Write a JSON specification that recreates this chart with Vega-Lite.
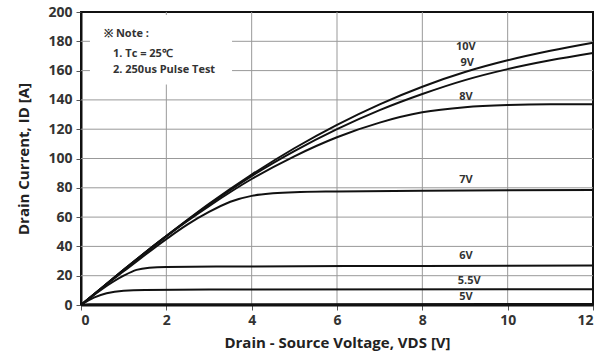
{
  "$schema": "https://vega.github.io/schema/vega-lite/v6.json",
  "autosize": {"type": "none"},
  "width": 512,
  "height": 293,
  "padding": {"left": 81, "top": 12, "right": 10, "bottom": 54},
  "config": {
    "view": {"stroke": "#111", "strokeWidth": 2},
    "font": "Open Sans"
  },
  "datasets": {
    "curves": [
      {"vgs": "10V", "v": 0, "i": 0}, {"vgs": "10V", "v": 0.5, "i": 12}, {"vgs": "10V", "v": 1, "i": 24}, {"vgs": "10V", "v": 2, "i": 47}, {"vgs": "10V", "v": 3, "i": 69}, {"vgs": "10V", "v": 4, "i": 89}, {"vgs": "10V", "v": 5, "i": 107}, {"vgs": "10V", "v": 6, "i": 123}, {"vgs": "10V", "v": 7, "i": 137}, {"vgs": "10V", "v": 8, "i": 149}, {"vgs": "10V", "v": 9, "i": 159}, {"vgs": "10V", "v": 10, "i": 167}, {"vgs": "10V", "v": 11, "i": 173.5}, {"vgs": "10V", "v": 12, "i": 179},
      {"vgs": "9V", "v": 0, "i": 0}, {"vgs": "9V", "v": 0.5, "i": 12}, {"vgs": "9V", "v": 1, "i": 24}, {"vgs": "9V", "v": 2, "i": 47}, {"vgs": "9V", "v": 3, "i": 68.5}, {"vgs": "9V", "v": 4, "i": 88}, {"vgs": "9V", "v": 5, "i": 105}, {"vgs": "9V", "v": 6, "i": 120}, {"vgs": "9V", "v": 7, "i": 133}, {"vgs": "9V", "v": 8, "i": 144}, {"vgs": "9V", "v": 9, "i": 153.5}, {"vgs": "9V", "v": 10, "i": 161}, {"vgs": "9V", "v": 11, "i": 167}, {"vgs": "9V", "v": 12, "i": 172},
      {"vgs": "8V", "v": 0, "i": 0}, {"vgs": "8V", "v": 0.5, "i": 12}, {"vgs": "8V", "v": 1, "i": 24}, {"vgs": "8V", "v": 2, "i": 47}, {"vgs": "8V", "v": 3, "i": 67.5}, {"vgs": "8V", "v": 4, "i": 86}, {"vgs": "8V", "v": 5, "i": 101.5}, {"vgs": "8V", "v": 6, "i": 114.5}, {"vgs": "8V", "v": 7, "i": 124.5}, {"vgs": "8V", "v": 8, "i": 131.5}, {"vgs": "8V", "v": 9, "i": 135}, {"vgs": "8V", "v": 10, "i": 136.5}, {"vgs": "8V", "v": 11, "i": 137}, {"vgs": "8V", "v": 12, "i": 137},
      {"vgs": "7V", "v": 0, "i": 0}, {"vgs": "7V", "v": 0.5, "i": 12}, {"vgs": "7V", "v": 1, "i": 23}, {"vgs": "7V", "v": 2, "i": 45}, {"vgs": "7V", "v": 2.5, "i": 55}, {"vgs": "7V", "v": 3, "i": 63.5}, {"vgs": "7V", "v": 3.5, "i": 70.5}, {"vgs": "7V", "v": 4, "i": 74.5}, {"vgs": "7V", "v": 4.5, "i": 76.2}, {"vgs": "7V", "v": 5, "i": 77}, {"vgs": "7V", "v": 6, "i": 77.5}, {"vgs": "7V", "v": 8, "i": 78}, {"vgs": "7V", "v": 12, "i": 78.5},
      {"vgs": "6V", "v": 0, "i": 0}, {"vgs": "6V", "v": 0.5, "i": 11}, {"vgs": "6V", "v": 1, "i": 20}, {"vgs": "6V", "v": 1.3, "i": 24}, {"vgs": "6V", "v": 1.6, "i": 25.5}, {"vgs": "6V", "v": 2, "i": 26}, {"vgs": "6V", "v": 4, "i": 26.3}, {"vgs": "6V", "v": 8, "i": 26.7}, {"vgs": "6V", "v": 12, "i": 27},
      {"vgs": "5.5V", "v": 0, "i": 0}, {"vgs": "5.5V", "v": 0.3, "i": 5}, {"vgs": "5.5V", "v": 0.6, "i": 8}, {"vgs": "5.5V", "v": 1, "i": 9.8}, {"vgs": "5.5V", "v": 1.5, "i": 10.3}, {"vgs": "5.5V", "v": 3, "i": 10.5}, {"vgs": "5.5V", "v": 12, "i": 10.8},
      {"vgs": "5V", "v": 0, "i": 0}, {"vgs": "5V", "v": 0.2, "i": 0.5}, {"vgs": "5V", "v": 12, "i": 0.7}
    ],
    "labels": [
      {"text": "10V", "v": 9.02, "i": 176},
      {"text": "9V", "v": 9.05, "i": 165},
      {"text": "8V", "v": 9.02, "i": 142},
      {"text": "7V", "v": 9.02, "i": 85.3},
      {"text": "6V", "v": 9.02, "i": 33.4},
      {"text": "5.5V", "v": 9.1, "i": 16.4},
      {"text": "5V", "v": 9.02, "i": 5.5}
    ],
    "grid": [
      {"g": "v2a", "v": 2, "i": 0}, {"g": "v2a", "v": 2, "i": 150.5},
      {"g": "v2b", "v": 2, "i": 198}, {"g": "v2b", "v": 2, "i": 200},
      {"g": "v4", "v": 4, "i": 0}, {"g": "v4", "v": 4, "i": 200},
      {"g": "v6", "v": 6, "i": 0}, {"g": "v6", "v": 6, "i": 200},
      {"g": "v8", "v": 8, "i": 0}, {"g": "v8", "v": 8, "i": 200},
      {"g": "v10", "v": 10, "i": 0}, {"g": "v10", "v": 10, "i": 200},
      {"g": "h20", "v": 0, "i": 20}, {"g": "h20", "v": 12, "i": 20},
      {"g": "h40", "v": 0, "i": 40}, {"g": "h40", "v": 12, "i": 40},
      {"g": "h60", "v": 0, "i": 60}, {"g": "h60", "v": 12, "i": 60},
      {"g": "h80", "v": 0, "i": 80}, {"g": "h80", "v": 12, "i": 80},
      {"g": "h100", "v": 0, "i": 100}, {"g": "h100", "v": 12, "i": 100},
      {"g": "h120", "v": 0, "i": 120}, {"g": "h120", "v": 12, "i": 120},
      {"g": "h140", "v": 0, "i": 140}, {"g": "h140", "v": 12, "i": 140},
      {"g": "h160a", "v": 0, "i": 160}, {"g": "h160a", "v": 0.21, "i": 160},
      {"g": "h160b", "v": 3.54, "i": 160}, {"g": "h160b", "v": 12, "i": 160},
      {"g": "h180a", "v": 0, "i": 180}, {"g": "h180a", "v": 0.21, "i": 180},
      {"g": "h180b", "v": 3.54, "i": 180}, {"g": "h180b", "v": 12, "i": 180}
    ],
    "note": [
      {"text": "※ Note :", "v": 0.54, "i": 185},
      {"text": "1. Tc = 25℃", "v": 0.75, "i": 171.3},
      {"text": "2. 250us Pulse Test", "v": 0.75, "i": 160.4}
    ]
  },
  "encoding": {
    "x": {"field": "v", "type": "quantitative", "scale": {"domain": [0, 12]},
          "axis": {"values": [0, 2, 4, 6, 8, 10, 12], "grid": false,
                   "domainColor": "#111", "domainWidth": 2, "tickColor": "#555", "tickSize": 5,
                   "labelFont": "Open Sans", "labelFontWeight": "bold", "labelFontSize": 14, "labelColor": "#333", "labelPadding": 3,
                   "title": "Drain - Source Voltage, VDS [V]", "titleFont": "Open Sans", "titleFontWeight": "bold", "titleFontSize": 15, "titleColor": "#222", "titlePadding": 8}},
    "y": {"field": "i", "type": "quantitative", "scale": {"domain": [0, 200]},
          "axis": {"values": [0, 20, 40, 60, 80, 100, 120, 140, 160, 180, 200], "grid": false,
                   "domainColor": "#111", "domainWidth": 2, "tickColor": "#555", "tickSize": 5, "labelOverlap": false,
                   "labelFont": "Open Sans", "labelFontWeight": "bold", "labelFontSize": 14, "labelColor": "#333", "labelPadding": 4,
                   "title": "Drain Current, ID [A]", "titleFont": "Open Sans", "titleFontWeight": "bold", "titleFontSize": 15, "titleColor": "#222", "titlePadding": 16}}
  },
  "layer": [
    {
      "data": {"name": "grid"},
      "mark": {"type": "line", "color": "#999999", "strokeWidth": 1},
      "encoding": {"detail": {"field": "g"}, "order": {"field": "i"}}
    },
    {
      "data": {"name": "note"},
      "mark": {"type": "text", "align": "left", "baseline": "middle", "fontSize": 11, "fontWeight": "bold", "font": "Open Sans", "color": "#333"},
      "encoding": {
        "text": {"field": "text"}
      }
    },
    {
      "data": {"name": "curves"},
      "mark": {"type": "line", "interpolate": "monotone", "color": "#111", "strokeWidth": 2},
      "encoding": {
        "detail": {"field": "vgs"},
        "strokeWidth": {"condition": {"test": "datum.vgs === '5V'", "value": 3.5}, "value": 2}
      }
    },
    {
      "data": {"name": "labels"},
      "mark": {"type": "text", "align": "center", "baseline": "middle", "fontSize": 11, "fontWeight": "bold", "font": "Open Sans", "color": "#333"},
      "encoding": {
        "text": {"field": "text"}
      }
    }
  ]
}
